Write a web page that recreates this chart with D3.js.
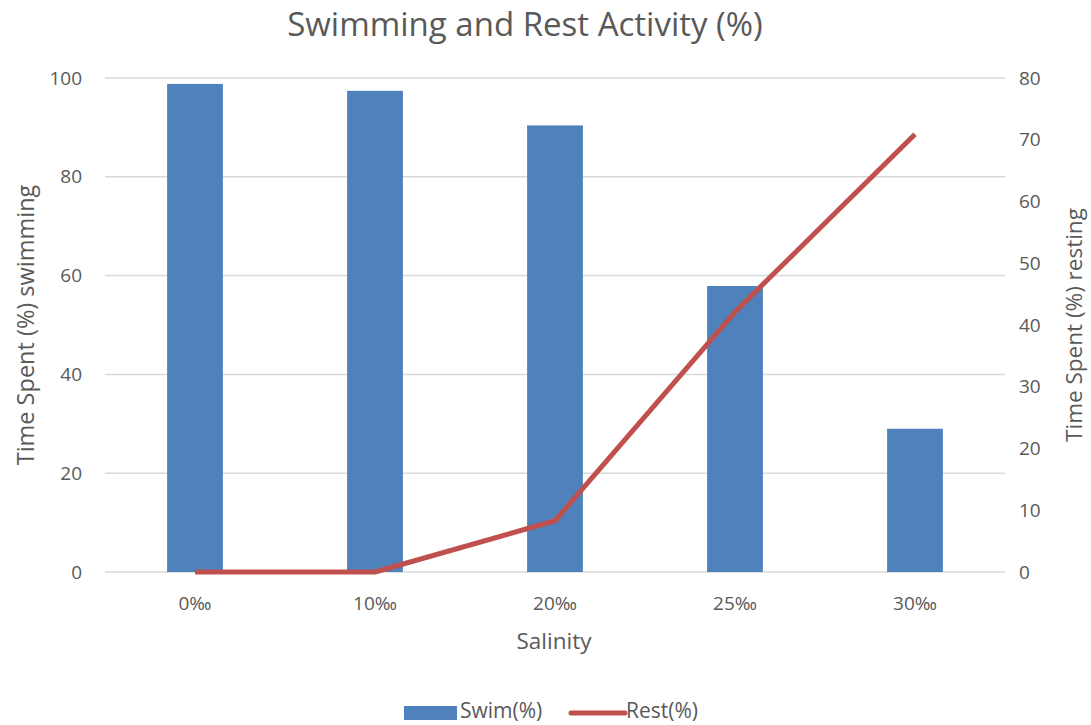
<!DOCTYPE html>
<html>
<head>
<meta charset="utf-8">
<script src="https://cdn.jsdelivr.net/npm/d3@7"></script>
<style>
  body { margin: 0; background: #fff; }
  svg { display: block; font-family: "Open Sans", Lato, sans-serif; }
</style>
</head>
<body>
<svg id="chart" width="1091" height="725"></svg>
<script>
// Salinity categories and activity measurements
const salinity = ["0‰", "10‰", "20‰", "25‰", "30‰"];
const swimPct = [98.8, 97.4, 90.4, 57.9, 29.0];
const restPct = [0, 0, 8.3, 42.1, 70.9];
const leftTicks = [0, 20, 40, 60, 80, 100];
const rightTicks = [0, 10, 20, 30, 40, 50, 60, 70, 80];

const svg = d3.select("#chart");
const margin = { left: 105, right: 1005, top: 78, bottom: 572 };
const textColor = "#595959";
const font = "'Open Sans', Lato, sans-serif";

const x = d3.scaleBand()
  .domain(salinity)
  .range([margin.left, margin.right])
  .paddingInner(0.69)
  .paddingOuter(0.345);

const yLeft = d3.scaleLinear().domain([0, 100]).range([margin.bottom, margin.top]);
const yRight = d3.scaleLinear().domain([0, 80]).range([margin.bottom, margin.top]);

// Title
svg.append("text")
  .attr("x", 525).attr("y", 36)
  .attr("text-anchor", "middle")
  .attr("font-size", 33)
  .attr("fill", textColor)
  .text("Swimming and Rest Activity (%)");

// Gridlines from the left axis
svg.append("g")
  .selectAll("line")
  .data(leftTicks)
  .join("line")
  .attr("x1", margin.left).attr("x2", margin.right)
  .attr("y1", d => yLeft(d)).attr("y2", d => yLeft(d))
  .attr("stroke", "#d9d9d9")
  .attr("stroke-width", 1.5);

// Left axis
const leftAxis = svg.append("g")
  .attr("transform", `translate(${margin.left - 23},0)`)
  .call(d3.axisLeft(yLeft).tickValues(leftTicks).tickSize(0).tickPadding(0));
leftAxis.select(".domain").remove();
leftAxis.selectAll("text")
  .attr("font-size", 19).attr("fill", textColor).attr("font-family", font);

// Right axis
const rightAxis = svg.append("g")
  .attr("transform", `translate(${margin.right + 14},0)`)
  .call(d3.axisRight(yRight).tickValues(rightTicks).tickSize(0).tickPadding(0));
rightAxis.select(".domain").remove();
rightAxis.selectAll("text")
  .attr("font-size", 19).attr("fill", textColor).attr("font-family", font);

// Category axis
const bottomAxis = svg.append("g")
  .attr("transform", `translate(0,${margin.bottom + 24})`)
  .call(d3.axisBottom(x).tickSize(0).tickPadding(0));
bottomAxis.select(".domain").remove();
bottomAxis.selectAll("text")
  .attr("font-size", 19).attr("fill", textColor).attr("font-family", font)
  .attr("dy", "0.71em");

// Swim bars
svg.append("g")
  .selectAll("rect")
  .data(swimPct)
  .join("rect")
  .attr("x", (d, i) => x(salinity[i]))
  .attr("width", x.bandwidth())
  .attr("y", d => yLeft(d))
  .attr("height", d => yLeft(0) - yLeft(d))
  .attr("fill", "#4f81bd");

// Rest line
const line = d3.line()
  .x((d, i) => x(salinity[i]) + x.bandwidth() / 2)
  .y(d => yRight(d));
svg.append("path")
  .datum(restPct)
  .attr("d", line)
  .attr("fill", "none")
  .attr("stroke", "#c0504d")
  .attr("stroke-width", 5)
  .attr("stroke-linejoin", "round");

// Axis titles
svg.append("text")
  .attr("transform", `translate(34,${(margin.top + margin.bottom) / 2}) rotate(-90)`)
  .attr("text-anchor", "middle")
  .attr("font-size", 23.5).attr("fill", textColor)
  .text("Time Spent (%) swimming");

svg.append("text")
  .attr("transform", `translate(1082,${(margin.top + margin.bottom) / 2}) rotate(-90)`)
  .attr("text-anchor", "middle")
  .attr("font-size", 22.5).attr("fill", textColor)
  .text("Time Spent (%) resting");

svg.append("text")
  .attr("x", 554).attr("y", 649)
  .attr("text-anchor", "middle")
  .attr("font-size", 22.5).attr("fill", textColor)
  .text("Salinity");

// Legend
const legend = svg.append("g");
legend.append("rect")
  .attr("x", 404).attr("y", 706).attr("width", 53).attr("height", 14)
  .attr("fill", "#4f81bd");
legend.append("text")
  .attr("x", 460).attr("y", 718)
  .attr("font-size", 21).attr("fill", textColor)
  .text("Swim(%)");
legend.append("line")
  .attr("x1", 571).attr("x2", 625).attr("y1", 713).attr("y2", 713)
  .attr("stroke", "#c0504d").attr("stroke-width", 5).attr("stroke-linecap", "round");
legend.append("text")
  .attr("x", 626).attr("y", 718)
  .attr("font-size", 21).attr("fill", textColor)
  .text("Rest(%)");
</script>
</body>
</html>
